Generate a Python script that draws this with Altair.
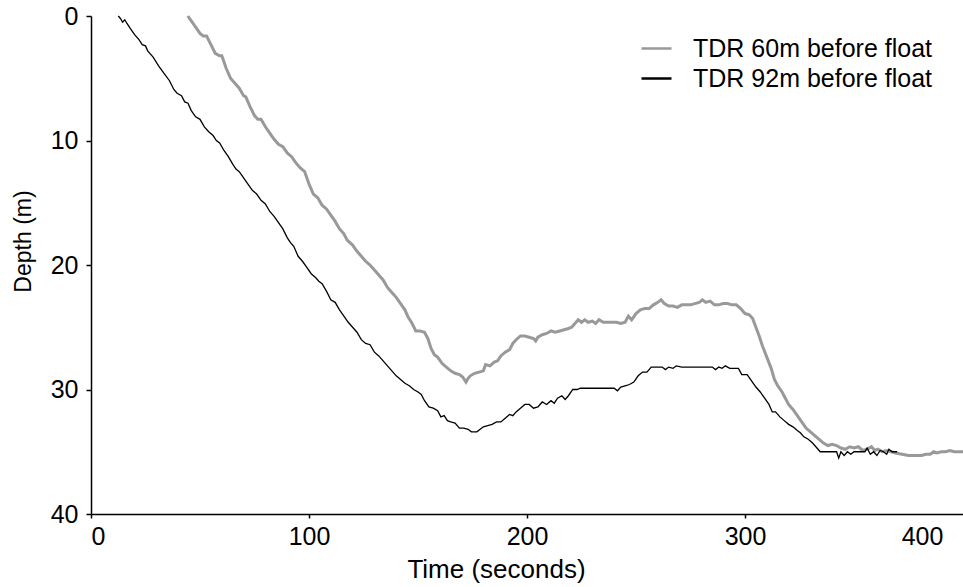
import altair as alt
import pandas as pd

# TDR 60m before float (grey)
t60 = [44.4, 46, 48, 50, 51.5, 53, 55, 57, 59, 60, 62, 64, 66, 68, 70, 71, 73, 75, 76.5, 78,
       80, 82, 84, 86, 88, 90, 92, 94, 96, 98, 100, 102, 104, 106, 108, 110, 112, 114, 116, 117.5,
       120, 122, 124, 126, 128, 130, 132, 134, 136, 138, 140, 142, 144, 145.5, 147, 149, 151, 153, 154.5, 156,
       157.5, 159, 161, 163, 165, 167, 169, 170.5, 172, 173, 174, 176, 178, 180, 181, 183, 185, 186.5, 188, 190,
       192, 193.5, 195, 197, 199, 201, 203, 204, 205, 207, 209, 211, 213, 215, 217, 219, 220.5, 222, 223.5, 225,
       226.5, 228, 230, 231.5, 233, 235, 237, 239, 241, 243, 245, 246.5, 248, 250, 252, 254, 256, 258, 260, 261.5,
       263, 265, 267, 269, 271, 273, 275, 277, 279, 280.5, 282, 284, 286, 288, 290, 292, 294, 296, 298, 300,
       302, 303.5, 305, 306.5, 308, 310, 312, 313.5, 315, 317, 318.5, 320, 322, 324, 326, 328, 330, 332, 334, 336,
       338, 340, 342, 344, 346, 348, 350, 352, 354, 356, 358, 359.5, 361, 363, 365, 367, 369, 372, 375, 377,
       379, 381, 383, 385, 386.5, 388, 390, 392, 394, 396, 398, 400]
d60 = [0.0, 0.4, 0.9, 1.4, 1.6, 1.6, 2.3, 3.0, 3.2, 3.2, 4.2, 5.0, 5.4, 5.8, 6.4, 6.5, 7.3, 8.0, 8.3, 8.3,
       8.9, 9.4, 9.9, 10.3, 10.5, 11.0, 11.3, 11.8, 12.2, 12.5, 13.5, 14.3, 14.6, 15.2, 15.5, 16.0, 16.5, 17.1, 17.5, 18.0,
       18.4, 18.9, 19.3, 19.7, 20.0, 20.4, 20.8, 21.2, 21.8, 22.2, 22.6, 23.1, 23.6, 24.2, 24.6, 25.3, 25.3, 25.4, 25.9, 26.7,
       27.2, 27.4, 27.9, 28.2, 28.5, 28.7, 28.8, 29.0, 29.4, 29.1, 28.9, 28.7, 28.6, 28.5, 28.0, 28.1, 27.8, 27.7, 27.3, 27.0,
       26.8, 26.3, 26.0, 25.7, 25.7, 25.8, 25.9, 26.1, 25.8, 25.6, 25.5, 25.3, 25.4, 25.3, 25.2, 25.1, 25.0, 24.7, 24.4, 24.6,
       24.4, 24.6, 24.5, 24.7, 24.4, 24.6, 24.6, 24.6, 24.6, 24.7, 24.6, 24.1, 24.4, 23.9, 23.6, 23.5, 23.5, 23.2, 23.0, 22.8,
       23.1, 23.3, 23.3, 23.4, 23.2, 23.2, 23.2, 23.1, 23.0, 22.8, 23.0, 22.9, 23.2, 23.2, 23.1, 23.1, 23.2, 23.2, 23.5, 23.9,
       24.0, 24.3, 25.0, 25.7, 26.5, 27.4, 28.3, 29.2, 29.7, 30.2, 30.7, 31.2, 31.6, 32.1, 32.6, 33.1, 33.4, 33.7, 34.0, 34.3,
       34.5, 34.4, 34.5, 34.7, 34.8, 34.6, 34.7, 34.6, 34.9, 34.8, 34.6, 34.9, 34.8, 35.0, 34.9, 35.0, 35.1, 35.2, 35.3, 35.3,
       35.3, 35.3, 35.2, 35.2, 35.0, 35.1, 35.0, 35.0, 34.9, 35.0, 35.0, 35.0]

# TDR 92m before float (black)
t92 = [12.5, 13.5, 14.5, 15.5, 16.5, 18, 20, 22, 23.5, 25, 26, 28.5, 31, 33.5, 36, 38, 39.5, 41.5, 43, 44.5,
       46, 48, 50, 52, 54, 56, 57.5, 59, 61, 63, 65, 66.5, 68, 70, 72, 74, 76, 78, 80, 82,
       84, 86, 88, 90, 91.5, 93, 95, 97, 99, 101, 103, 104.5, 106, 108, 110, 112, 114, 116, 118, 120,
       122, 124, 126, 128, 130, 132, 134, 136, 138, 140, 142, 144, 146, 148, 150, 151.5, 153, 155, 157, 159,
       160.5, 162, 163.5, 165, 167, 169, 171, 173, 174.5, 177, 178.5, 180, 182, 184, 186, 188, 190, 192, 193.5, 195,
       197, 199, 201, 203, 205, 207, 209, 211, 212.5, 214, 216, 217.5, 219, 221, 223, 224.5, 227, 230, 233, 236,
       238, 240, 241.5, 243, 245, 247, 249, 251, 253, 255, 257, 260, 262, 263.5, 265, 267, 268.5, 271, 274, 277,
       280, 283, 285, 286.5, 288, 289.5, 291, 293, 295, 297, 298.5, 301, 303, 305, 307, 309, 311, 312.5, 314, 316,
       318, 320, 322, 324, 325.5, 327, 329, 331, 333, 334.5, 337, 340, 342, 343, 344, 345.5, 347, 348.5, 350, 352,
       353.5, 355, 356, 357.5, 359, 360.5, 362, 363.5, 365, 366, 367.5, 369.8]
d92 = [0.0, 0.2, 0.5, 0.3, 0.6, 1.0, 1.5, 1.9, 2.3, 2.4, 2.8, 3.3, 4.0, 4.6, 5.2, 5.9, 6.2, 6.4, 6.9, 7.0,
       7.6, 8.1, 8.3, 8.9, 9.3, 9.6, 10.0, 10.2, 10.8, 11.3, 11.9, 12.3, 12.5, 13.0, 13.5, 14.0, 14.3, 14.8, 15.1, 15.7,
       16.1, 16.6, 17.1, 17.8, 18.2, 18.5, 19.3, 19.7, 20.2, 20.7, 21.0, 21.3, 21.5, 22.1, 22.8, 23.0, 23.6, 24.1, 24.6, 25.0,
       25.4, 26.0, 26.3, 26.4, 27.0, 27.3, 27.7, 28.1, 28.5, 28.9, 29.2, 29.5, 29.7, 30.0, 30.2, 30.4, 30.9, 31.4, 31.5, 31.7,
       32.2, 32.1, 32.5, 32.6, 32.7, 33.1, 33.1, 33.2, 33.4, 33.4, 33.2, 33.0, 32.9, 32.8, 32.6, 32.6, 32.3, 32.0, 32.1, 31.8,
       31.5, 31.2, 31.2, 31.5, 31.4, 31.0, 31.2, 30.9, 31.1, 30.7, 30.5, 30.8, 30.5, 30.0, 30.0, 29.9, 29.9, 29.9, 29.9, 29.9,
       29.9, 29.9, 30.1, 29.8, 29.7, 29.6, 29.4, 28.9, 28.6, 28.6, 28.2, 28.2, 28.2, 28.4, 28.2, 28.3, 28.1, 28.2, 28.2, 28.2,
       28.2, 28.2, 28.2, 28.4, 28.2, 28.3, 28.1, 28.3, 28.3, 28.3, 28.8, 28.8, 29.3, 29.8, 30.2, 30.7, 31.2, 31.8, 31.8, 32.2,
       32.5, 32.8, 33.0, 33.3, 33.5, 33.8, 34.0, 34.3, 34.7, 35.0, 35.0, 35.0, 35.0, 35.5, 35.0, 35.3, 35.0, 35.2, 35.0, 35.0,
       35.0, 35.0, 34.7, 35.2, 35.0, 35.3, 34.9, 35.0, 35.2, 34.8, 35.0, 35.0]

series = ["TDR 60m before float", "TDR 92m before float"]
colors = ["#999999", "#000000"]

df60 = pd.DataFrame({"time": t60, "depth": d60, "series": series[0]})
df92 = pd.DataFrame({"time": t92, "depth": d92, "series": series[1]})

FONT = "Liberation Sans"

x_enc = alt.X("time:Q",
              scale=alt.Scale(domain=[0, 400], nice=False, zero=False),
              axis=alt.Axis(values=[0, 100, 200, 300, 400], title="Time (seconds)",
                            grid=False, tickSize=4, labelPadding=6,
                            labelAlign=alt.expr("datum.value == 0 ? 'left' : 'center'"),
                            labelOffset=alt.expr("datum.value == 400 ? -41 : 0"),
                            tickColor=alt.expr("datum.value == 400 ? 'transparent' : 'black'"),
                            titleFontSize=26,
                            titleX=405, titleY=55, titleBaseline="middle"))
y_enc = alt.Y("depth:Q",
              scale=alt.Scale(domain=[0, 40], nice=False, zero=False, reverse=True),
              axis=alt.Axis(values=[0, 10, 20, 30, 40], title="Depth (m)",
                            grid=False, tickSize=5, labelPadding=8, titleFontSize=23,
                            titleX=-68, titleY=225, titleBaseline="middle", titleAngle=-90))
c_enc = alt.Color("series:N",
                  scale=alt.Scale(domain=series, range=colors),
                  legend=alt.Legend(title=None, orient="none", legendX=549, legendY=16,
                                    symbolType="stroke", symbolSize=900, symbolStrokeWidth=2.5,
                                    labelFontSize=25, labelFont=FONT, labelColor="black",
                                    labelLimit=0, labelOffset=20, rowPadding=0, padding=0))

grey = alt.Chart(df60).mark_line(strokeWidth=3).encode(
    x=x_enc, y=y_enc, color=c_enc, order=alt.Order("time:Q"))
black = alt.Chart(df92).mark_line(strokeWidth=1.3).encode(
    x=x_enc, y=y_enc, color=c_enc, order=alt.Order("time:Q"))

chart = alt.layer(grey, black).properties(
    width=872,
    height=498,
    background="white",
    autosize=alt.AutoSizeParams(type="none"),
    padding={"left": 91, "top": 16, "right": 0, "bottom": 73},
).configure_view(
    stroke=None
).configure_axis(
    domainColor="black", domainWidth=1.5, tickColor="black", tickWidth=1.5,
    labelFont=FONT, labelFontSize=25, labelColor="black",
    titleFont=FONT, titleFontSize=25, titleColor="black", titleFontWeight="normal",
)

chart.save("out.html", embed_options={"renderer": "svg", "actions": False})
